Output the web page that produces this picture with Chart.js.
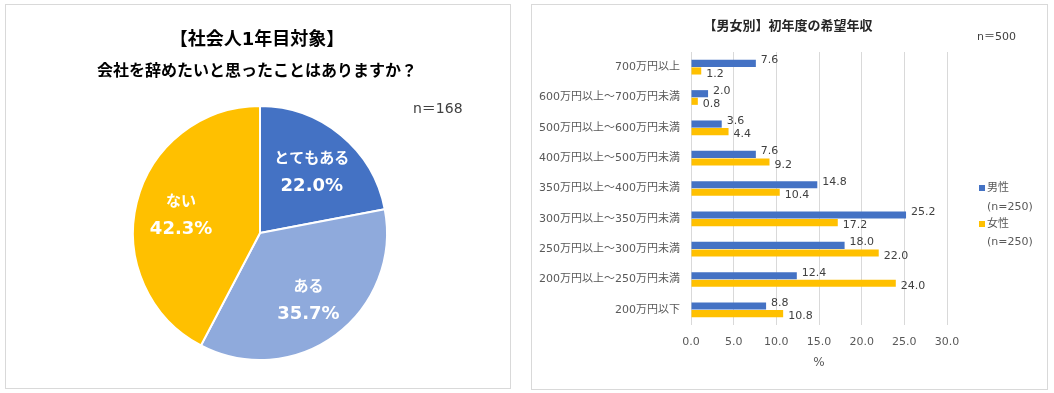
<!DOCTYPE html>
<html><head><meta charset="utf-8">
<script src="https://cdn.jsdelivr.net/npm/chart.js@4/dist/chart.umd.min.js"></script>
<style>
html,body{margin:0;padding:0;background:#fff;width:1054px;height:393px;overflow:hidden}
.frame{position:absolute;border:1px solid #d9d9d9;box-sizing:border-box}
#f1{left:5px;top:4px;width:506px;height:385px}
#f2{left:531px;top:4px;width:517px;height:386px}
canvas{position:absolute;top:0}
#c1{left:0}
#c2{left:530px}
</style></head>
<body>
<div class="frame" id="f1"></div>
<div class="frame" id="f2"></div>
<canvas id="c1" width="520" height="393"></canvas>
<canvas id="c2" width="524" height="393"></canvas>
<script>
// ---- Pie data ----
const pieTitle1 = '【社会人1年目対象】';
const pieTitle2 = '会社を辞めたいと思ったことはありますか？';
const pieN = 'n＝168';
const pieLabels = ['とてもある', 'ある', 'ない'];
const pieValues = [22.0, 35.7, 42.3];
const pieColors = ['#4472C4', '#8FAADC', '#FFC000'];

// ---- Bar data ----
const barTitle = '【男女別】初年度の希望年収';
const barN = 'n＝500';
const incomeCategories = ['700万円以上', '600万円以上～700万円未満', '500万円以上～600万円未満', '400万円以上～500万円未満', '350万円以上～400万円未満', '300万円以上～350万円未満', '250万円以上～300万円未満', '200万円以上～250万円未満', '200万円以下'];
const maleValues = [7.6, 2.0, 3.6, 7.6, 14.8, 25.2, 18.0, 12.4, 8.8];
const femaleValues = [1.2, 0.8, 4.4, 9.2, 10.4, 17.2, 22.0, 24.0, 10.8];
const seriesNames = ['男性', '女性'];
const seriesSub = ['(n=250)', '(n=250)'];
const xTicks = [0, 5, 10, 15, 20, 25, 30];
const xTitle = '%';

const FAM = '"DejaVu Sans","Noto Sans CJK JP",sans-serif';
const JFAM = '"Noto Sans CJK JP",sans-serif';

const piePlugin = {
  id: 'pieText',
  afterDatasetsDraw(chart) {
    const ctx = chart.ctx;
    ctx.save();
    ctx.textAlign = 'center';
    ctx.textBaseline = 'middle';
    ctx.fillStyle = '#000';
    ctx.font = '700 18px ' + FAM;
    ctx.fillText(pieTitle1, 257, 40);
    ctx.font = '700 16px ' + FAM;
    ctx.fillText(pieTitle2, 257, 72);
    ctx.fillStyle = '#404040';
    ctx.font = '14px ' + FAM;
    ctx.textAlign = 'left';
    ctx.fillText(pieN, 413, 109);
    ctx.textAlign = 'center';
    ctx.fillStyle = '#fff';
    const meta = chart.getDatasetMeta(0);
    meta.data.forEach((arc, i) => {
      const p = arc.getProps(['x', 'y', 'startAngle', 'endAngle', 'outerRadius'], true);
      const mid = (p.startAngle + p.endAngle) / 2;
      const r = p.outerRadius * 0.64;
      const cx = p.x + Math.cos(mid) * r;
      const cy = p.y + Math.sin(mid) * r;
      ctx.font = '700 15px ' + JFAM;
      ctx.fillText(pieLabels[i], cx, cy - 13);
      ctx.font = '700 18px ' + FAM;
      ctx.fillText(pieValues[i].toFixed(1) + '%', cx, cy + 16);
    });
    ctx.restore();
  }
};

new Chart(document.getElementById('c1'), {
  type: 'pie',
  data: {
    labels: pieLabels,
    datasets: [{ data: pieValues, backgroundColor: pieColors, borderColor: '#fff', borderWidth: 2 }]
  },
  options: {
    responsive: false,
    animation: false,
    layout: { padding: { left: 132, right: 132, top: 105, bottom: 32 } },
    plugins: { legend: { display: false }, tooltip: { enabled: false } }
  },
  plugins: [piePlugin]
});

const barPlugin = {
  id: 'barText',
  afterDatasetsDraw(chart) {
    const ctx = chart.ctx;
    const ca = chart.chartArea;
    ctx.save();
    ctx.textBaseline = 'middle';
    // data labels
    ctx.font = '11px ' + FAM;
    ctx.fillStyle = '#404040';
    ctx.textAlign = 'left';
    chart.data.datasets.forEach((ds, di) => {
      const meta = chart.getDatasetMeta(di);
      meta.data.forEach((bar, i) => {
        const p = bar.getProps(['x', 'y'], true);
        ctx.fillText(ds.data[i].toFixed(1), p.x + 5, p.y + (di === 0 ? -3 : 3));
      });
    });
    // title
    ctx.fillStyle = '#262626';
    ctx.textAlign = 'center';
    ctx.font = '700 13px ' + JFAM;
    ctx.fillText(barTitle, 258, 25);
    // n
    ctx.fillStyle = '#404040';
    ctx.textAlign = 'left';
    ctx.font = '11px ' + FAM;
    ctx.fillText(barN, 447, 37);
    // axis title
    ctx.fillStyle = '#595959';
    ctx.textAlign = 'center';
    ctx.font = '12px ' + FAM;
    ctx.fillText(xTitle, (ca.left + ca.right) / 2, 363);
    // legend
    ctx.textAlign = 'left';
    ctx.font = '11px ' + FAM;
    const ly = [[188, 207], [224, 242]];
    chart.data.datasets.forEach((ds, di) => {
      ctx.fillStyle = ds.backgroundColor;
      ctx.fillRect(449, ly[di][0] - 3, 6, 6);
      ctx.fillStyle = '#595959';
      ctx.fillText(seriesNames[di], 457, ly[di][0]);
      ctx.fillText(seriesSub[di], 457, ly[di][1]);
    });
    ctx.restore();
  }
};

new Chart(document.getElementById('c2'), {
  type: 'bar',
  data: {
    labels: incomeCategories,
    datasets: [
      { label: seriesNames[0], data: maleValues, backgroundColor: '#4472C4' },
      { label: seriesNames[1], data: femaleValues, backgroundColor: '#FFC000' }
    ]
  },
  options: {
    indexAxis: 'y',
    responsive: false,
    animation: false,
    categoryPercentage: 0.5,
    barPercentage: 0.94,
    layout: { padding: { left: 0, right: 107, top: 52, bottom: 0 } },
    plugins: { legend: { display: false }, tooltip: { enabled: false } },
    scales: {
      x: {
        min: 0, max: 30,
        afterBuildTicks(s) { s.ticks = xTicks.map(v => ({ value: v })); },
        afterFit(s) { s.height = 68; },
        grid: { color: '#d9d9d9', drawTicks: false },
        border: { display: false },
        ticks: { padding: 11, color: '#595959', font: { family: FAM, size: 11 }, callback: v => Number(v).toFixed(1) }
      },
      y: {
        afterFit(s) { s.width = 161; },
        grid: { display: false, drawTicks: false },
        border: { display: false },
        ticks: { padding: 11, color: '#595959', font: { family: FAM, size: 11 }, autoSkip: false }
      }
    }
  },
  plugins: [barPlugin]
});
</script>
</body></html>
